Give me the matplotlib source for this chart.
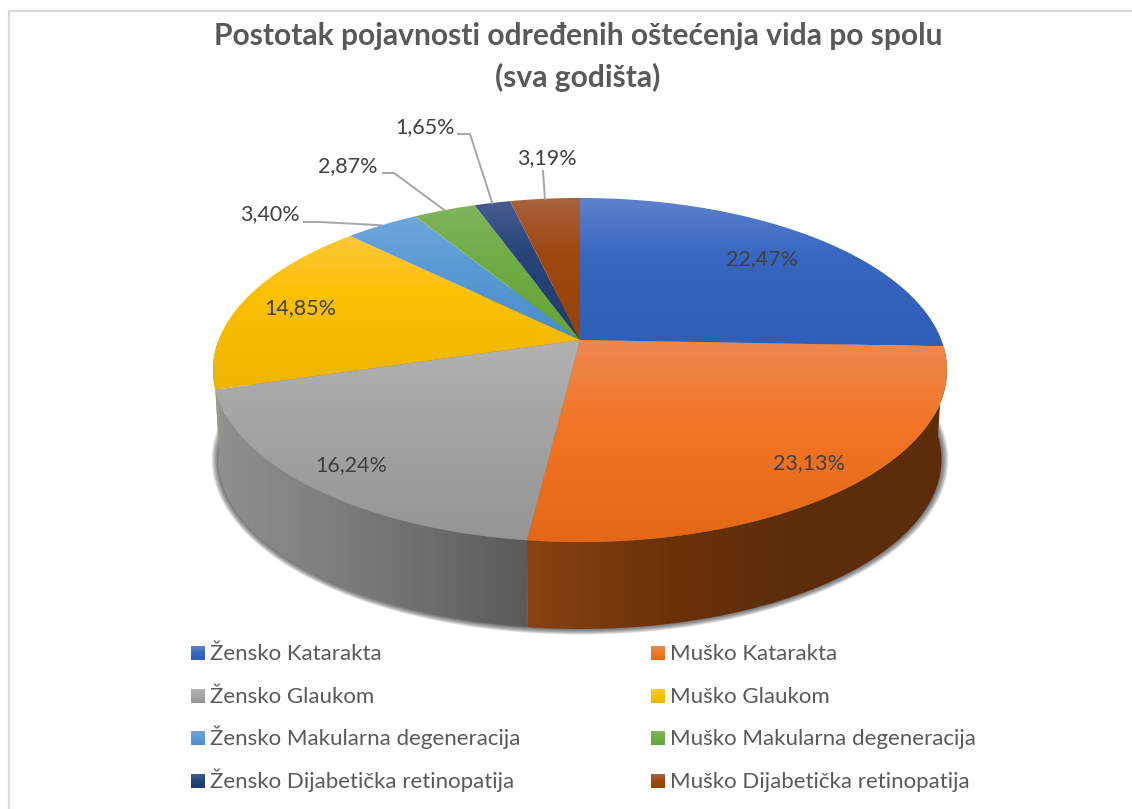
import numpy as np
import matplotlib
matplotlib.use("Agg")
import matplotlib.pyplot as plt
from matplotlib.colors import LinearSegmentedColormap
from matplotlib.patches import Polygon

plt.rcParams['font.family'] = ['Lato', 'DejaVu Sans']

title_lines = ["Postotak pojavnosti određenih oštećenja vida po spolu", "(sva godišta)"]
categories = ["Žensko Katarakta", "Muško Katarakta",
              "Žensko Glaukom", "Muško Glaukom",
              "Žensko Makularna degeneracija", "Muško Makularna degeneracija",
              "Žensko Dijabetička retinopatija", "Muško Dijabetička retinopatija"]
values = [22.47, 23.13, 16.24, 14.85, 3.40, 2.87, 1.65, 3.19]

# light, mid, dark stops of each slice top
top_colors = [("#5f82cd", "#3766c0", "#2f5eb8"),
              ("#ee8850", "#f27626", "#e36715"),
              ("#b2b2b2", "#a5a5a5", "#959595"),
              ("#fcc838", "#fbc000", "#edb500"),
              ("#6fa6dc", "#5b9bd5", "#4a8dca"),
              ("#80b55f", "#70ad47", "#66a336"),
              ("#475c8e", "#264478", "#1e3a70"),
              ("#a9623f", "#9e480e", "#95420a")]
# left to right colours of the walls that can be seen
side_colors = {1: ["#8a4210", "#6b3209", "#5c2c0b", "#5c2c0b"],
               2: ["#909090", "#808080", "#6e6e6e", "#5a5a5a"],
               3: ["#a3a08a", "#909090"]}

# pie geometry in pixels of the 1132x809 picture
CX, CY = 580, 340
RX, RY, PERSP = 361.4, 166.8, 0.1744
DEPTH, SHRINK = 90, 0.985
inner_label_r = [0.76, 0.86, 0.87, 0.83]
outer_label_xy = [(270, 214), (348, 166), (425, 127), (547, 158)]
leader_knees = [[(304, 222), (320, 222)], [(383, 173), (394, 173)],
                [(458, 134), (470, 134)], [(543, 171)]]
LABEL_SIZE = 15.5


def project(theta, r=1.0):
    """clockwise angle from top (radians) to picture coordinates"""
    u = r * np.sin(theta)
    v = r * np.cos(theta)
    d = 1 + PERSP * v
    return CX + RX * u / d, CY - RY * v / d


def lower(x, y):
    """rim point moved to the bottom edge of the pie"""
    return CX + SHRINK * (x - CX), CY + DEPTH + SHRINK * (y - CY)


def fill_gradient(ax, verts, stops, horizontal=False, zorder=3):
    verts = np.asarray(verts)
    x0, y0 = verts.min(axis=0)
    x1, y1 = verts.max(axis=0)
    cmap = LinearSegmentedColormap.from_list("g", stops)
    ramp = np.linspace(0, 1, 256)
    ramp = ramp[None, :] if horizontal else ramp[:, None]
    im = ax.imshow(ramp, cmap=cmap, extent=(x0, x1, y1, y0), aspect="auto",
                   interpolation="bilinear", zorder=zorder)
    patch = Polygon(verts, closed=True, transform=ax.transData)
    im.set_clip_path(patch)
    return im


fig = plt.figure(figsize=(11.32, 8.09), dpi=100)
ax = fig.add_axes([0, 0, 1, 1])
ax.axis("off")

# chart frame
ax.plot([9, 9, 1140], [815, 11, 11], color="#d9d9d9", lw=1.6, zorder=1)

edges = 2 * np.pi * np.cumsum([0] + values) / sum(values)

# soft shadow round the bottom of the pie
th = np.linspace(0, 2 * np.pi, 360)
sx, sy = lower(*project(th))
mid_y = (sy.min() + sy.max()) / 2
half_w = (sx.max() - sx.min()) / 2
half_h = (sy.max() - sy.min()) / 2
for grow in range(8, 0, -1):
    ring_x = CX + (sx - CX) * (1 + grow * 0.85 / half_w)
    ring_y = mid_y + (sy - mid_y) * (1 + grow * 0.7 / half_h)
    ax.fill(ring_x, ring_y, color="#2a2a2a", alpha=0.11, lw=0, zorder=2)

# side wall: only the slices facing the viewer
for i, stops in side_colors.items():
    end = edges[i + 1] if i < 3 else 1.5 * np.pi
    a = np.linspace(edges[i], end, 160)
    x, y = project(a)
    lx, ly = lower(x, y)
    verts = np.c_[np.r_[x, lx[::-1]], np.r_[y, ly[::-1]]]
    fill_gradient(ax, verts, stops, horizontal=True)

# top faces
for i, stops in enumerate(top_colors):
    a = np.linspace(edges[i], edges[i + 1], 200)
    x, y = project(a)
    verts = np.c_[np.r_[CX, x], np.r_[CY, y]]
    grad = LinearSegmentedColormap.from_list("s", [(0, stops[0]), (0.4, stops[1]), (1, stops[2])])
    fill_gradient(ax, verts, [grad(t) for t in np.linspace(0, 1, 64)], zorder=4)

mids = (edges[:-1] + edges[1:]) / 2
labels = [f"{v:.2f}%".replace(".", ",") for v in values]

# labels on the big slices
for i, r in enumerate(inner_label_r):
    x, y = project(mids[i], r)
    ax.text(x + 1, y, labels[i], fontsize=LABEL_SIZE, color="#404040", ha="center", va="center", zorder=6)

# small slices get a label outside and a leader line
for j, i in enumerate(range(4, 8)):
    lx, ly = outer_label_xy[j]
    ax.text(lx, ly, labels[i], fontsize=LABEL_SIZE, color="#404040", ha="center", va="center", zorder=6)
    ex, ey = project(mids[i])
    pts = leader_knees[j] + [(ex, ey)]
    ax.plot([p[0] for p in pts], [p[1] for p in pts], color="#a6a6a6", lw=1.4, zorder=5)

for line, y in zip(title_lines, [36, 77]):
    ax.text(578, y, line, fontsize=21.6, fontweight="bold", color="#595959",
            ha="center", va="center", zorder=6)

# legend, two columns by four rows
leg_x = [198, 658]
leg_y = [653, 696, 738, 781]
for i, name in enumerate(categories):
    x = leg_x[i % 2]
    y = leg_y[i // 2]
    stops = top_colors[i]
    fill_gradient(ax, [(x - 7, y - 7), (x + 7, y - 7), (x + 7, y + 7), (x - 7, y + 7)],
                  list(stops), zorder=5)
    ax.text(x + 12.5, y + 7, name, fontsize=16, color="#595959", ha="left", va="baseline", zorder=6)

ax.set_xlim(0, 1132)
ax.set_ylim(809, 0)
fig.savefig("out.png", dpi=100, facecolor="white")
